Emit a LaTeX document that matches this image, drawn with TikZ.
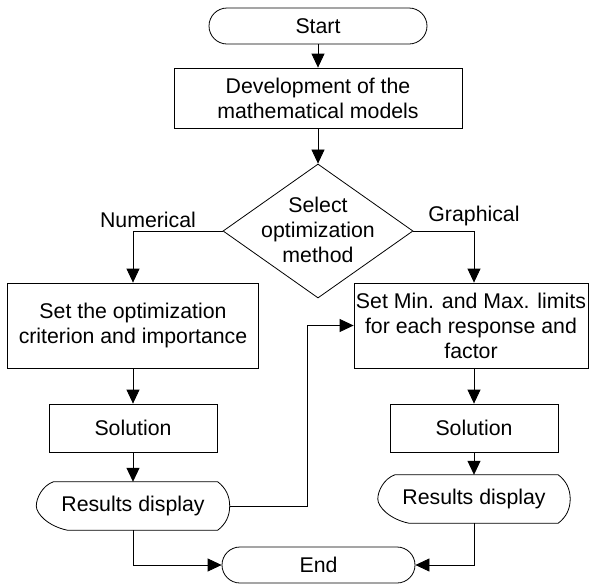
\documentclass[tikz,border=0pt]{standalone}
\usepackage{fontspec}
\setmainfont{Liberation Sans}
\usetikzlibrary{shapes.geometric,arrows.meta}
\newcommand\dispdraw[1]{%
  \draw[shp] ([xshift=17pt]#1.north west) -- ([xshift=-12pt]#1.north east)
    .. controls ([xshift=-4pt,yshift=-6pt]#1.north east) and ([yshift=10pt]#1.east) .. (#1.east)
    .. controls ([yshift=-10pt]#1.east) and ([xshift=-4pt,yshift=6pt]#1.south east) .. ([xshift=-12pt]#1.south east)
    -- ([xshift=31pt]#1.south west)
    .. controls ([xshift=12pt,yshift=4pt]#1.south west) and ([yshift=-8pt]#1.west) .. (#1.west)
    .. controls ([yshift=8pt]#1.west) and ([xshift=6pt,yshift=-4pt]#1.north west) .. ([xshift=17pt]#1.north west) -- cycle;}
\begin{document}
\begin{tikzpicture}[x=1pt,y=-1pt,
  every node/.style={font=\fontsize{21.3}{25}\selectfont},
  shp/.style={draw=black, line width=0.8pt},
  arr/.style={draw=black, line width=0.8pt, -{Triangle[length=14pt,width=13pt]}},
  box/.style={shp, rectangle, inner sep=0pt, align=center},
  term/.style={shp, rectangle, rounded corners=18pt, inner sep=0pt},
  dia/.style={shp, diamond, inner sep=0pt, minimum width=190pt, minimum height=134pt},
  disp/.style={rectangle, inner sep=0pt, align=center, minimum height=48pt},
  plain/.style={inner sep=0pt, align=center}
]
\useasboundingbox (0,0) rectangle (590,587);

\node[term, minimum width=218pt, minimum height=36pt] (start) at (318,26) {Start};
\node[box, minimum width=288pt, minimum height=60pt] (dev) at (318,98) {Development of the\\mathematical models};
\node[dia] (sel) at (318,231) {};
\node[plain] (seltxt) at (318,230) {Select\\optimization\\method};

\node[box, minimum width=251pt, minimum height=85pt] (opt) at (133,325.5) {Set the optimization\\criterion and importance};
\node[box, minimum width=234pt, minimum height=85pt] (mm) at (471,325.5) {Set Min. and Max. limits\\for each response and\\factor};

\node[box, minimum width=168pt, minimum height=48pt] (sol1) at (133,428) {Solution};
\node[box, minimum width=168pt, minimum height=48pt] (sol2) at (474,428) {Solution};

\node[disp, minimum width=193pt] (disp1) at (133,506) {Results display};
\node[disp, minimum width=192pt] (disp2) at (474,499) {Results display};
\dispdraw{disp1}
\dispdraw{disp2}

\node[term, minimum width=193pt, minimum height=36pt] (end) at (318.5,565) {End};

\node[plain, anchor=base] (num) at (148,227) {Numerical};
\node[plain, anchor=base] (gra) at (474,221) {Graphical};

\draw[arr] (start) -- (dev);
\draw[arr] (dev) -- (sel);
\draw[arr] (sel.west) -| (opt.north);
\draw[arr] (sel.east) -| (sol2.north |- mm.north);
\draw[arr] (opt) -- (sol1);
\draw[arr] (mm.south -| sol2.north) -- (sol2);
\draw[arr] (sol1) -- (disp1);
\draw[arr] (sol2) -- (disp2);
\draw[arr] (disp1.east) -- ++(78,0) |- (mm.west);
\draw[arr] (disp1.south) |- (end.west);
\draw[arr] (disp2.south) |- (end.east);
\end{tikzpicture}
\end{document}
